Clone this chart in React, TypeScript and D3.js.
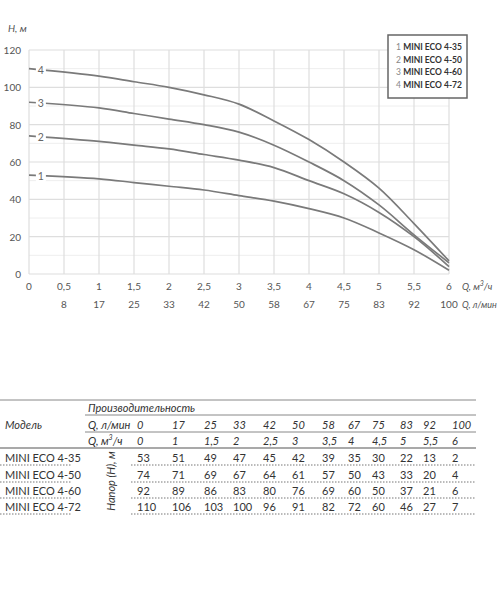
import React from 'react';
import * as d3 from 'd3';

// pump curves, Q in m3/h and H in m
const flowM3 = [0, 1, 1.5, 2, 2.5, 3, 3.5, 4, 4.5, 5, 5.5, 6];
const flowLmin = [0, 17, 25, 33, 42, 50, 58, 67, 75, 83, 92, 100];
const models = ['MINI ECO 4-35', 'MINI ECO 4-50', 'MINI ECO 4-60', 'MINI ECO 4-72'];
const head435 = [53, 51, 49, 47, 45, 42, 39, 35, 30, 22, 13, 2];
const head450 = [74, 71, 69, 67, 64, 61, 57, 50, 43, 33, 20, 4];
const head460 = [92, 89, 86, 83, 80, 76, 69, 60, 50, 37, 21, 6];
const head472 = [110, 106, 103, 100, 96, 91, 82, 72, 60, 46, 27, 7];
const heads = [head435, head450, head460, head472];
const xTicks = [0, 0.5, 1, 1.5, 2, 2.5, 3, 3.5, 4, 4.5, 5, 5.5, 6];
const xTicksLmin = [8, 17, 25, 33, 42, 50, 58, 67, 75, 83, 92, 100];
const yTicks = [0, 20, 40, 60, 80, 100, 120];

const W = 499;
const H = 600;
const font = 'Lato, "Noto Sans", sans-serif';
const colX = [137, 172, 204, 233, 263, 292, 322, 348, 372, 400, 423, 452];
const rowY = [457, 474, 490, 506];

const fmt = (v: number) => String(v).replace('.', ',');

const App = () => {
  const x = d3.scaleLinear().domain([0, 6]).range([29, 449]);
  const y = d3.scaleLinear().domain([0, 120]).range([274, 50]);
  const line = d3
    .line<number>()
    .x((_, i) => x(flowM3[i]))
    .y((d) => y(d))
    .curve(d3.curveCatmullRom.alpha(0.5));

  const minorY = d3.range(10, 120, 20);
  const labelQ = 0.17;

  return (
    <svg width={W} height={H} style={{ position: 'absolute', left: 0, top: 0, background: '#fff' }} fontFamily={font}>
      {/* grid */}
      {minorY.map((v) => (
        <line key={'m' + v} x1={x(0)} x2={x(6)} y1={y(v)} y2={y(v)} stroke="#eeeeee" strokeWidth={1} />
      ))}
      {yTicks.map((v) => (
        <line key={'h' + v} x1={x(0)} x2={x(6)} y1={y(v)} y2={y(v)} stroke="#dedede" strokeWidth={1.2} />
      ))}
      {xTicks.map((v) => (
        <line key={'v' + v} x1={x(v)} x2={x(v)} y1={y(0)} y2={y(120)} stroke="#dedede" strokeWidth={1.2} />
      ))}

      {/* curves */}
      {heads.map((h, i) => (
        <path key={'c' + i} d={line(h) || ''} fill="none" stroke="#7a7a7a" strokeWidth={1.7} />
      ))}
      {heads.map((h, i) => {
        const yy = y(d3.interpolateNumber(h[0], h[1])(labelQ));
        return (
          <g key={'l' + i}>
            <rect x={x(labelQ) - 5} y={yy - 6} width={10} height={12} fill="#fff" />
            <text x={x(labelQ)} y={yy} textAnchor="middle" dominantBaseline="central" fontSize={10.5} fill="#666">
              {i + 1}
            </text>
          </g>
        );
      })}

      {/* axes labels */}
      <text x={8} y={32} fontSize={10} fontStyle="italic" fill="#555">H, м</text>
      {yTicks.map((v) => (
        <text key={'yt' + v} x={21} y={y(v)} textAnchor="end" dominantBaseline="central" fontSize={10} fill="#555">
          {v}
        </text>
      ))}
      {xTicks.map((v) => (
        <text key={'xt' + v} x={x(v)} y={286} textAnchor="middle" dominantBaseline="central" fontSize={10} fill="#555">
          {fmt(v)}
        </text>
      ))}
      {xTicksLmin.map((v, i) => (
        <text key={'xl' + v} x={x(xTicks[i + 1])} y={304} textAnchor="middle" dominantBaseline="central" fontSize={10} fill="#555">
          {v}
        </text>
      ))}
      <text x={462} y={286} dominantBaseline="central" fontSize={9.5} fontStyle="italic" fill="#555">
        Q, м<tspan dy={-3} fontSize={7}>3</tspan><tspan dy={3}>/ч</tspan>
      </text>
      <text x={462} y={304} dominantBaseline="central" fontSize={9} fontStyle="italic" fill="#555">
        Q, л/мин
      </text>

      {/* legend */}
      <rect x={388} y={35} width={79} height={63} fill="#fff" stroke="#666" strokeWidth={1.5} />
      {models.map((m, i) => (
        <text key={'lg' + i} x={396} y={47 + i * 12.7} dominantBaseline="central" fontSize={8.5}>
          <tspan fill="#888">{i + 1} </tspan>
          <tspan fill="#333" fontWeight="bold">{m}</tspan>
        </text>
      ))}

      {/* table */}
      <g fill="#333" fontSize={11}>
        <line x1={0} x2={476} y1={400} y2={400} stroke="#888" strokeWidth={1} />
        <line x1={85} x2={476} y1={415} y2={415} stroke="#888" strokeWidth={1} />
        <line x1={85} x2={476} y1={432} y2={432} stroke="#888" strokeWidth={1} />
        <line x1={0} x2={476} y1={448} y2={448} stroke="#555" strokeWidth={1.2} />
        {rowY.map((r) => (
          <g key={'d' + r}>
            <line x1={0} x2={72} y1={r + 8} y2={r + 8} stroke="#777" strokeDasharray="1.5,1.5" />
            <line x1={131} x2={476} y1={r + 8} y2={r + 8} stroke="#777" strokeDasharray="1.5,1.5" />
          </g>
        ))}
        <text x={5} y={424} dominantBaseline="central" fontStyle="italic">Модель</text>
        <text x={88} y={407} dominantBaseline="central" fontStyle="italic">Производительность</text>
        <text x={88} y={424} dominantBaseline="central" fontStyle="italic">Q, л/мин</text>
        <text x={88} y={440} dominantBaseline="central" fontStyle="italic">
          Q, м<tspan dy={-3} fontSize={7}>3</tspan><tspan dy={3}>/ч</tspan>
        </text>
        {flowLmin.map((v, i) => (
          <text key={'tl' + i} x={colX[i]} y={424} dominantBaseline="central" fontStyle="italic">{v}</text>
        ))}
        {flowM3.map((v, i) => (
          <text key={'tm' + i} x={colX[i]} y={440} dominantBaseline="central" fontStyle="italic">{fmt(v)}</text>
        ))}
        <text
          transform="translate(110,481) rotate(-90)"
          textAnchor="middle"
          dominantBaseline="central"
          fontStyle="italic"
        >
          Напор (Н), м
        </text>
        {models.map((m, r) => (
          <g key={'row' + r}>
            <text x={5} y={rowY[r]} dominantBaseline="central">{m}</text>
            {heads[r].map((v, i) => (
              <text key={i} x={colX[i]} y={rowY[r]} dominantBaseline="central">{v}</text>
            ))}
          </g>
        ))}
      </g>
    </svg>
  );
};

export default App;
